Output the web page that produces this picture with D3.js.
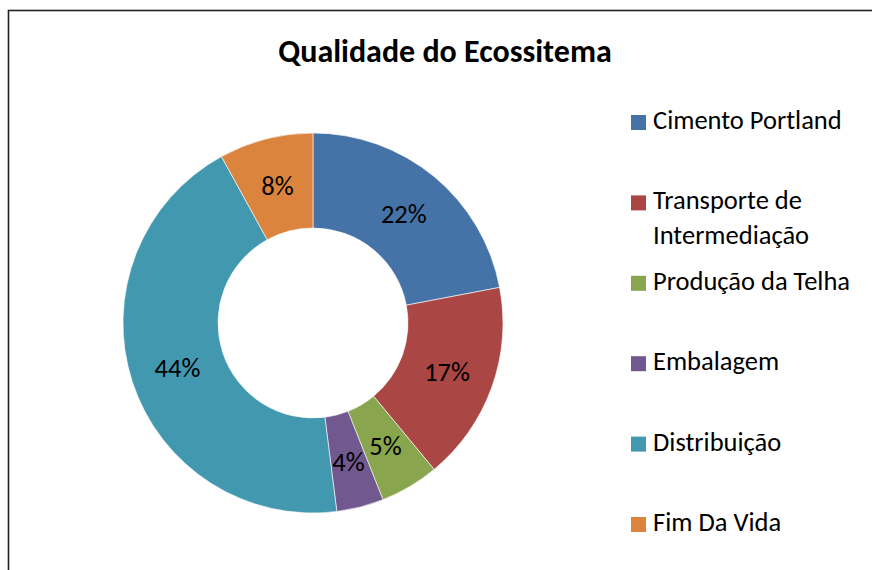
<!DOCTYPE html>
<html>
<head>
<meta charset="utf-8">
<script src="https://cdn.jsdelivr.net/npm/d3@7"></script>
<style>
  body { margin: 0; background: #fff; }
  text { font-family: Carlito, Calibri, Lato, sans-serif; fill: #000; }
</style>
</head>
<body>
<svg id="svg-donut" width="872" height="570"></svg>
<script>
// Data
var categories = ["Cimento Portland", "Transporte de Intermediação", "Produção da Telha",
                  "Embalagem", "Distribuição", "Fim Da Vida"];
var legendLines = [["Cimento Portland"], ["Transporte de", "Intermediação"], ["Produção da Telha"],
                   ["Embalagem"], ["Distribuição"], ["Fim Da Vida"]];
var values = [22, 17, 5, 4, 44, 8];
var colors = ["#4572A7", "#AA4643", "#89A54E", "#71588F", "#4198AF", "#DB843D"];
var title = "Qualidade do Ecossitema";

var svg = d3.select("#svg-donut");

// Dimensions
var dim = { cx: 313, cy: 323, r_out: 190, r_in: 95,
            leg_x: 631, leg_y0: 129, leg_step: 80.4, leg_line: 35 };

// Frame (runs off the right and bottom of the picture)
svg.append("rect")
   .attr("x", 8.5).attr("y", 10.5)
   .attr("width", 900).attr("height", 600)
   .attr("fill", "none")
   .attr("stroke", "#222")
   .attr("stroke-width", 1.6);

// Title
svg.append("text")
   .attr("x", 445).attr("y", 62)
   .attr("text-anchor", "middle")
   .style("font-size", "32px")
   .style("font-weight", "bold")
   .text(title);

var data = categories.map(function(c, i) { return { name: c, value: values[i], color: colors[i] }; });
var total = d3.sum(values);

var pie = d3.pie()
            .sort(null)
            .value(function(d) { return d.value; });
var arc = d3.arc()
            .innerRadius(dim.r_in)
            .outerRadius(dim.r_out);

var g = svg.append("g")
           .attr("transform", "translate(" + dim.cx + "," + dim.cy + ")");

g.selectAll("path")
 .data(pie(data))
 .enter()
 .append("path")
 .attr("d", arc)
 .attr("fill", function(d) { return d.data.color; })
 .attr("stroke", "#fff")
 .attr("stroke-width", 0.6);

g.selectAll("text.lab")
 .data(pie(data))
 .enter()
 .append("text")
 .attr("class", "lab")
 .attr("transform", function(d) { return "translate(" + arc.centroid(d) + ")"; })
 .attr("text-anchor", "middle")
 .attr("dy", "0.36em")
 .style("font-size", "26.5px")
 .text(function(d) { return Math.round(d.data.value / total * 100) + "%"; });

// Legend
var leg = svg.append("g").attr("id", "legend");
var items = leg.selectAll("g")
               .data(data)
               .enter()
               .append("g")
               .attr("transform", function(d, i) {
                 return "translate(" + dim.leg_x + "," + (dim.leg_y0 + i * dim.leg_step) + ")";
               });
items.append("rect")
     .attr("x", 0).attr("y", -14)
     .attr("width", 15).attr("height", 15)
     .attr("fill", function(d) { return d.color; });
items.each(function(d, i) {
  var t = d3.select(this).append("text")
            .attr("x", 22).attr("y", 0)
            .style("font-size", "26.5px");
  legendLines[i].forEach(function(line, k) {
    t.append("tspan").attr("x", 22).attr("dy", k === 0 ? 0 : dim.leg_line).text(line);
  });
});
</script>
</body>
</html>
